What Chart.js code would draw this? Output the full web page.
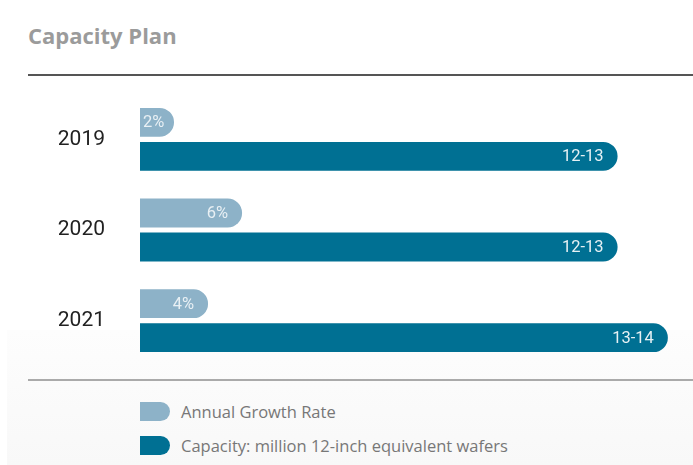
<!DOCTYPE html>
<html>
<head>
<meta charset="utf-8">
<script src="https://cdn.jsdelivr.net/npm/chart.js@4/dist/chart.umd.min.js"></script>
<style>
  html, body { margin: 0; padding: 0; background: #fff; }
  body { width: 693px; height: 465px; position: relative; overflow: hidden; font-family: "Open Sans", sans-serif; }
  .shade { position: absolute; left: 7px; top: 330px; width: 686px; height: 135px;
           background: linear-gradient(to bottom, #fdfdfd, #f8f8f8); }
  h1 { position: absolute; left: 28px; top: 20px; margin: 0; font-size: 22px; font-weight: 700; color: #9b9b9b; }
  .rule { position: absolute; left: 28px; width: 665px; }
  .rule.top { top: 74px; height: 2px; background: #555; }
  .rule.bottom { top: 379px; height: 2px; background: #aaa; }
  #myChart { position: absolute; left: 0; top: 94px; }
  .legend { position: absolute; left: 140px; top: 402px; }
  .legend div { height: 19px; margin-bottom: 15px; display: flex; align-items: center; font-size: 16.5px; color: #777; }
  .legend span { width: 30px; height: 19px; border-radius: 0 10px 10px 0; margin-right: 11px; }
</style>
</head>
<body>
<div class="shade"></div>
<h1>Capacity Plan</h1>
<div class="rule top"></div>
<canvas id="myChart" width="693" height="272"></canvas>
<div class="rule bottom"></div>
<div class="legend" id="legend"></div>

<script>
const years = ['2019', '2020', '2021'];
const growthRate = [2, 6, 4];              // %
const growthLabels = ['2%', '6%', '4%'];
const capacity = [12.5, 12.5, 13.5];       // midpoint of the range
const capacityLabels = ['12-13', '12-13', '13-14'];

const seriesNames = ['Annual Growth Rate', 'Capacity: million 12-inch equivalent wafers'];
const lightBlue = '#8db2c8';
const darkBlue = '#007093';

// text drawn inside the right end of each bar
const barText = {
  id: 'barText',
  afterDatasetsDraw(chart) {
    const ctx = chart.ctx;
    ctx.save();
    ctx.font = '16.5px Roboto';
    ctx.textAlign = 'right';
    ctx.textBaseline = 'middle';
    chart.data.datasets.forEach((ds, i) => {
      chart.getDatasetMeta(i).data.forEach((bar, j) => {
        const txt = ds.labelsText[j];
        // short bars: keep the text inside, just off the left edge
        const x = Math.max(bar.x - 14, bar.base + 3 + ctx.measureText(txt).width);
        ctx.fillStyle = i === 0 ? 'rgba(255,255,255,0.8)' : 'rgba(255,255,255,0.9)';
        ctx.fillText(txt, x, bar.y + 1);
      });
    });
    ctx.restore();
  }
};

const ctx = document.getElementById('myChart').getContext('2d');
const myChart = new Chart(ctx, {
  type: 'bar',
  data: {
    labels: years,
    datasets: [{
      label: seriesNames[0],
      data: growthRate,
      labelsText: growthLabels,
      xAxisID: 'x2',
      backgroundColor: lightBlue,
      borderRadius: 15,
      borderSkipped: 'start',
      barPercentage: 0.85,
      categoryPercentage: 0.75
    },
    {
      label: seriesNames[1],
      data: capacity,
      labelsText: capacityLabels,
      xAxisID: 'x',
      backgroundColor: darkBlue,
      borderRadius: 15,
      borderSkipped: 'start',
      barPercentage: 0.85,
      categoryPercentage: 0.75
    }]
  },
  options: {
    indexAxis: 'y',
    responsive: false,
    animation: false,
    layout: { padding: 0 },
    plugins: { legend: { display: false }, tooltip: { enabled: false } },
    scales: {
      x: { display: false, min: 3, max: 14 },
      x2: { display: false, min: 0, max: 32.5 },
      y: {
        grid: { display: false, drawTicks: false },
        border: { display: false },
        ticks: { color: '#222', font: { family: 'Roboto', size: 21 }, padding: 35 },
        afterFit(scale) {
          scale.width = 140;
          // tick padding should only push labels left, not shrink the plot vertically
          scale.paddingTop = 0;
          scale.paddingBottom = 0;
        }
      }
    }
  },
  plugins: [barText]
});

// legend under the bottom rule
const legend = document.getElementById('legend');
[lightBlue, darkBlue].forEach((c, i) => {
  const row = document.createElement('div');
  const box = document.createElement('span');
  box.style.background = c;
  row.appendChild(box);
  row.appendChild(document.createTextNode(seriesNames[i]));
  legend.appendChild(row);
});
</script>
</body>
</html>
